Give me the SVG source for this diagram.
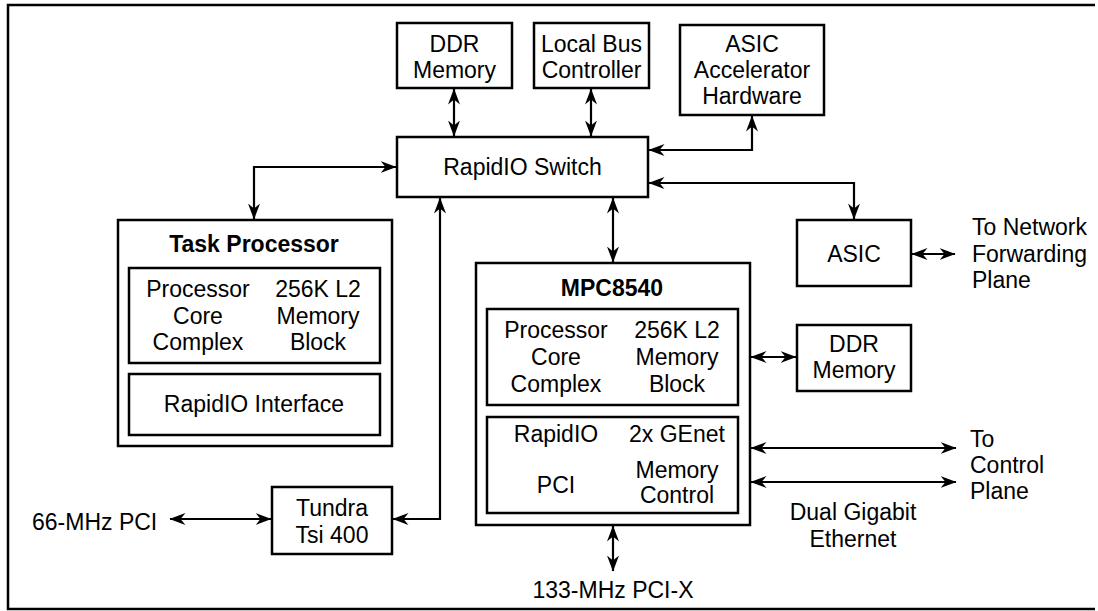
<svg xmlns="http://www.w3.org/2000/svg" width="1098" height="611" viewBox="0 0 1098 611">
<style>
.box{fill:#fff;stroke:#000;stroke-width:2.5}
.ln{fill:none;stroke:#000;stroke-width:2.2;marker-end:url(#ah);marker-start:url(#ah)}
text{font-family:"Liberation Sans",Arial,sans-serif;font-size:23px;fill:#000;text-anchor:middle}
.b{font-weight:bold}
.l{text-anchor:start}
</style>
<defs>
<marker id="ah" viewBox="0 0 16 12" refX="15.5" refY="6" markerWidth="16" markerHeight="12" markerUnits="userSpaceOnUse" orient="auto-start-reverse">
<path d="M0,0 L16,6 L0,12 L5,6 z" fill="#000"/>
</marker>
</defs>
<rect width="1098" height="611" fill="#fff"/>
<path d="M1095,5 H8 V609 H1095" fill="none" stroke="#000" stroke-width="2.5"/>

<g id="connectors">
<line class="ln" x1="454" y1="89" x2="454" y2="136"/>
<line class="ln" x1="591" y1="89" x2="591" y2="136"/>
<polyline class="ln" points="649,150 752,150 752,116"/>
<polyline class="ln" points="649,183 854,183 854,219"/>
<polyline class="ln" points="396,167 254,167 254,219"/>
<polyline class="ln" points="440,198 440,519 393,519"/>
<line class="ln" x1="170" y1="519" x2="271" y2="519"/>
<line class="ln" x1="613" y1="198" x2="613" y2="262"/>
<line class="ln" x1="912" y1="254" x2="955" y2="254"/>
<line class="ln" x1="751" y1="357" x2="796" y2="357"/>
<line class="ln" x1="751" y1="448" x2="956" y2="448"/>
<line class="ln" x1="751" y1="482" x2="956" y2="482"/>
<line class="ln" x1="613" y1="526" x2="613" y2="571"/>
</g>

<g id="ddr-top">
<rect class="box" x="397" y="23" width="115" height="65"/>
<text x="454.5" y="52">DDR</text>
<text x="454.5" y="78">Memory</text>
</g>
<g id="local-bus">
<rect class="box" x="534" y="23" width="115" height="65"/>
<text x="591.5" y="52">Local Bus</text>
<text x="591.5" y="78">Controller</text>
</g>
<g id="asic-accel">
<rect class="box" x="680" y="25" width="144" height="90"/>
<text x="752" y="52">ASIC</text>
<text x="752" y="78">Accelerator</text>
<text x="752" y="104">Hardware</text>
</g>
<g id="rapidio-switch">
<rect class="box" x="397" y="137" width="251" height="60"/>
<text x="522.5" y="175">RapidIO Switch</text>
</g>
<g id="task-processor">
<rect class="box" x="118" y="220" width="274" height="226"/>
<text class="b" x="254" y="252">Task Processor</text>
<rect class="box" x="129" y="268" width="251" height="95"/>
<text x="198" y="297">Processor</text>
<text x="198" y="324">Core</text>
<text x="198" y="350">Complex</text>
<text x="318" y="297">256K L2</text>
<text x="318" y="324">Memory</text>
<text x="318" y="350">Block</text>
<rect class="box" x="129" y="374" width="251" height="61"/>
<text x="254" y="412">RapidIO Interface</text>
</g>
<g id="asic">
<rect class="box" x="797" y="220" width="114" height="66"/>
<text x="854" y="262">ASIC</text>
</g>
<g id="network-label">
<text class="l" x="972" y="235">To Network</text>
<text class="l" x="972" y="262">Forwarding</text>
<text class="l" x="972" y="288">Plane</text>
</g>
<g id="mpc8540">
<rect class="box" x="476" y="263" width="274" height="262"/>
<text class="b" x="612" y="296">MPC8540</text>
<rect class="box" x="487" y="309" width="251" height="96"/>
<text x="556" y="338">Processor</text>
<text x="556" y="365">Core</text>
<text x="556" y="392">Complex</text>
<text x="677" y="338">256K L2</text>
<text x="677" y="365">Memory</text>
<text x="677" y="392">Block</text>
<rect class="box" x="487" y="417" width="251" height="96"/>
<text x="556" y="442">RapidIO</text>
<text x="677" y="442">2x GEnet</text>
<text x="556" y="493">PCI</text>
<text x="677" y="478">Memory</text>
<text x="677" y="503">Control</text>
</g>
<g id="ddr-right">
<rect class="box" x="797" y="325" width="114" height="66"/>
<text x="854" y="352">DDR</text>
<text x="854" y="378">Memory</text>
</g>
<g id="control-plane-label">
<text class="l" x="970" y="447">To</text>
<text class="l" x="970" y="473">Control</text>
<text class="l" x="970" y="499">Plane</text>
</g>
<g id="gige-label">
<text x="853" y="520">Dual Gigabit</text>
<text x="853" y="547">Ethernet</text>
</g>
<g id="tundra">
<rect class="box" x="272" y="487" width="120" height="67"/>
<text x="332" y="516">Tundra</text>
<text x="332" y="543">Tsi 400</text>
</g>
<g id="pci66-label">
<text class="l" x="32" y="530">66-MHz PCI</text>
</g>
<g id="pcix-label">
<text x="613" y="598">133-MHz PCI-X</text>
</g>
</svg>
